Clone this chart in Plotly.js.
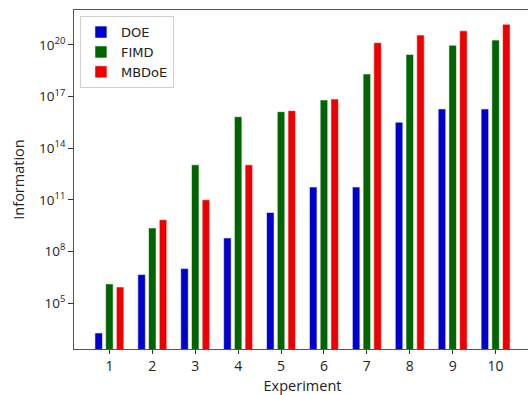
<!DOCTYPE html>
<html>
<head>
<meta charset="utf-8">
<script src="https://cdn.plot.ly/plotly-3.0.1.min.js"></script>
<style>
html, body { margin: 0; padding: 0; overflow: hidden; background: #fff; }
#chart { width: 531px; height: 395px; }
</style>
</head>
<body>
<div id="chart"></div>
<script>
// Data (log10 exponents of Information)
const experiments = [1, 2, 3, 4, 5, 6, 7, 8, 9, 10];
const doeExp   = [3.26, 6.65, 7.0, 8.78, 10.26, 11.74, 11.74, 15.51, 16.28, 16.28];
const fimdExp  = [6.11, 9.36, 13.03, 15.83, 16.12, 16.8, 18.31, 19.45, 19.98, 20.28];
const mbdoeExp = [5.93, 9.84, 11.0, 13.03, 16.18, 16.85, 20.13, 20.57, 20.82, 21.2];
const seriesNames = ["DOE", "FIMD", "MBDoE"];
const yTickExps = [5, 8, 11, 14, 17, 20];
const yTickText = ["10<sup>5</sup>", "10<sup>8</sup>", "10<sup>11</sup>", "10<sup>14</sup>", "10<sup>17</sup>", "10<sup>20</sup>"];
const xTickText = ["1", "2", "3", "4", "5", "6", "7", "8", "9", "10"];

const colors = ["#0000CD", "#006400", "#EE0000"];
const toVal = arr => arr.map(e => Math.pow(10, e));
const seriesVals = [doeExp, fimdExp, mbdoeExp];

const traces = seriesNames.map((n, i) => ({
  type: "bar",
  name: n,
  x: experiments,
  y: toVal(seriesVals[i]),
  marker: { color: colors[i], line: { color: "rgba(255,255,255,0.55)", width: 1 } },
  hoverinfo: "x+y+name"
}));

const layout = {
  width: 531,
  height: 395,
  margin: { l: 74, r: 0, t: 10, b: 46 },
  paper_bgcolor: "#fff",
  plot_bgcolor: "#fff",
  barmode: "group",
  bargap: 0.25,
  bargroupgap: 0.3,
  showlegend: true,
  legend: {
    x: 0.013, y: 0.982, xanchor: "left", yanchor: "top",
    bgcolor: "rgba(255,255,255,0.9)",
    bordercolor: "#d0d0d0", borderwidth: 1,
    font: { family: "DejaVu Sans, sans-serif", size: 13, color: "#222" },
    tracegroupgap: 0
  },
  xaxis: {
    range: [0.175, 10.825],
    tickmode: "array",
    tickvals: experiments,
    ticktext: xTickText,
    ticks: "outside", ticklen: 4, tickcolor: "#333", tickwidth: 1,
    showline: true, linecolor: "#555", linewidth: 1, mirror: true,
    showgrid: false, zeroline: false,
    tickfont: { family: "Open Sans, sans-serif", size: 14, color: "#222" },
    title: { text: "Experiment", font: { family: "Open Sans, sans-serif", size: 14.5, color: "#222" }, standoff: 8 }
  },
  yaxis: {
    type: "log",
    range: [2.327, 22.03],
    tickmode: "array",
    tickvals: yTickExps.map(e => Math.pow(10, e)),
    ticktext: yTickText,
    ticks: "outside", ticklen: 5, tickcolor: "#333", tickwidth: 1,
    showline: true, linecolor: "#555", linewidth: 1, mirror: true,
    showgrid: false, zeroline: false,
    tickfont: { family: "Open Sans, sans-serif", size: 13.5, color: "#222" },
    title: { text: "Information", font: { family: "Open Sans, sans-serif", size: 14.5, color: "#222" }, standoff: 10 }
  }
};

Plotly.newPlot("chart", traces, layout, { displayModeBar: false, staticPlot: true });
</script>
</body>
</html>
